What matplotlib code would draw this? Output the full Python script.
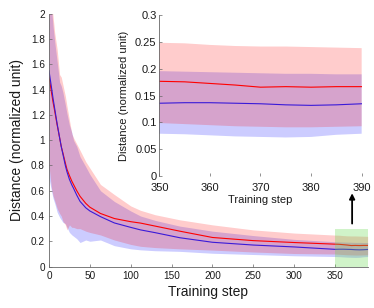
import matplotlib
matplotlib.use("Agg")
import matplotlib.pyplot as plt
from matplotlib.patches import Rectangle

plt.rcParams['font.family'] = ['Liberation Sans', 'DejaVu Sans']

steps = [0, 3, 5, 7, 10, 13, 15, 17, 20, 22, 25, 28, 30, 34, 38, 45, 50, 63, 80, 100,
         112, 130, 160, 200, 250, 300, 350, 355, 360, 365, 370, 375, 380, 385, 390]

red_mean = [1.51, 1.38, 1.30, 1.23, 1.12, 1.02, 0.95, 0.90, 0.82, 0.77, 0.72, 0.675, 0.65, 0.60,
            0.556, 0.50, 0.47, 0.42, 0.38, 0.355, 0.344, 0.32, 0.28, 0.23, 0.205, 0.19, 0.177,
            0.176, 0.173, 0.170, 0.166, 0.167, 0.166, 0.167, 0.167]
blue_mean = [1.55, 1.42, 1.33, 1.25, 1.13, 1.02, 0.95, 0.89, 0.80, 0.75, 0.69, 0.645, 0.62, 0.565,
             0.516, 0.465, 0.44, 0.395, 0.345, 0.31, 0.29, 0.268, 0.228, 0.192, 0.17, 0.155, 0.136,
             0.137, 0.137, 0.136, 0.135, 0.133, 0.132, 0.133, 0.135]
red_upper = [2.3, 2.1, 1.98, 1.85, 1.72, 1.52, 1.50, 1.44, 1.35, 1.27, 1.16, 1.05, 1.02, 0.97,
             0.92, 0.83, 0.78, 0.65, 0.57, 0.48, 0.445, 0.41, 0.37, 0.33, 0.29, 0.265, 0.249,
             0.248, 0.245, 0.243, 0.242, 0.242, 0.241, 0.240, 0.239]
blue_upper = [2.2, 2.05, 1.9, 1.78, 1.62, 1.46, 1.43, 1.38, 1.28, 1.21, 1.12, 1.06, 1.00, 0.95,
              0.87, 0.79, 0.73, 0.60, 0.515, 0.44, 0.40, 0.365, 0.32, 0.28, 0.245, 0.215, 0.196,
              0.195, 0.194, 0.193, 0.192, 0.191, 0.191, 0.190, 0.190]
red_lower = [0.80, 0.62, 0.56, 0.52, 0.46, 0.42, 0.40, 0.36, 0.33, 0.29, 0.33, 0.31, 0.31, 0.30,
             0.30, 0.28, 0.27, 0.25, 0.21, 0.175, 0.16, 0.15, 0.14, 0.13, 0.115, 0.103, 0.099,
             0.097, 0.095, 0.093, 0.092, 0.091, 0.091, 0.092, 0.093]
blue_lower = [0.70, 0.60, 0.54, 0.50, 0.43, 0.39, 0.37, 0.35, 0.34, 0.31, 0.27, 0.25, 0.24, 0.22,
              0.19, 0.21, 0.20, 0.21, 0.165, 0.14, 0.132, 0.125, 0.12, 0.105, 0.095, 0.085, 0.079,
              0.078, 0.076, 0.074, 0.073, 0.072, 0.073, 0.077, 0.079]

main_xticks = [0, 50, 100, 150, 200, 250, 300, 350]
main_yticks = [0, 0.2, 0.4, 0.6, 0.8, 1, 1.2, 1.4, 1.6, 1.8, 2]
main_yticklabels = ['0', '0.2', '0.4', '0.6', '0.8', '1', '1.2', '1.4', '1.6', '1.8', '2']
inset_xticks = [350, 360, 370, 380, 390]
inset_yticks = [0, 0.05, 0.1, 0.15, 0.2, 0.25, 0.3]
inset_yticklabels = ['0', '0.05', '0.1', '0.15', '0.2', '0.25', '0.3']

RED = '#ff0000'
BLUE = '#3a1ad8'
SPINE = '#666666'
TXT = '#1a1a1a'


def draw(ax):
    ax.fill_between(steps, blue_lower, blue_upper, color='#0000ff', alpha=0.2, linewidth=0)
    ax.fill_between(steps, red_lower, red_upper, color='#ff0000', alpha=0.2, linewidth=0)
    ax.plot(steps, red_mean, color=RED, lw=0.8)
    ax.plot(steps, blue_mean, color=BLUE, lw=0.8)


fig = plt.figure(figsize=(3.74, 3.08), dpi=100)

ax = fig.add_axes([0.131, 0.1347, 0.852, 0.82])
draw(ax)
ax.set_xlim(0, 390)
ax.set_ylim(0, 2)
ax.set_xticks(main_xticks)
ax.set_yticks(main_yticks)
ax.set_yticklabels(main_yticklabels)
for s in ['top', 'right']:
    ax.spines[s].set_visible(False)
for s in ['left', 'bottom']:
    ax.spines[s].set_color(SPINE)
    ax.spines[s].set_linewidth(0.6)
ax.tick_params(direction='in', length=2.5, width=0.5, color=SPINE, labelsize=7.2,
               labelcolor=TXT, pad=3)
ax.set_xlabel('Training step', fontsize=10, color=TXT, labelpad=3)
ax.set_ylabel('Distance (normalized unit)', fontsize=10, color=TXT, labelpad=5)

ax.add_patch(Rectangle((350, 0), 40, 0.3, facecolor=(0.4, 0.85, 0.3), alpha=0.3,
                       edgecolor='none', zorder=5))
ax.annotate('', xy=(371, 0.58), xytext=(371, 0.34),
            arrowprops=dict(arrowstyle='-|>', color='black', lw=1.3,
                            mutation_scale=8, shrinkA=0, shrinkB=0), zorder=6)

ins = fig.add_axes([0.426, 0.4286, 0.541, 0.5211])
ins.set_facecolor('white')
draw(ins)
ins.set_xlim(350, 390)
ins.set_ylim(0, 0.3)
ins.set_xticks(inset_xticks)
ins.set_yticks(inset_yticks)
ins.set_yticklabels(inset_yticklabels)
for s in ['top', 'right', 'bottom']:
    ins.spines[s].set_visible(False)
ins.spines['left'].set_color(SPINE)
ins.spines['left'].set_linewidth(0.6)
ins.tick_params(direction='in', length=2.5, width=0.5, color=SPINE, labelsize=8,
                labelcolor=TXT)
ins.tick_params(axis='y', pad=2)
ins.tick_params(axis='x', pad=5)
ins.set_xlabel('Training step', fontsize=8, color=TXT, labelpad=1.5)
ins.set_ylabel('Distance (normalized unit)', fontsize=8, color=TXT, labelpad=4)

fig.savefig('out.png', dpi=100)
